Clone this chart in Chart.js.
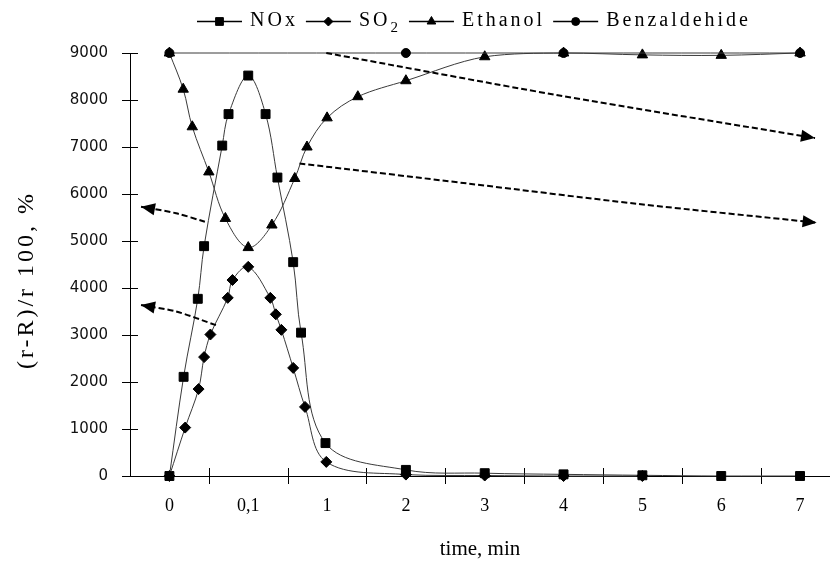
<!DOCTYPE html>
<html>
<head>
<meta charset="utf-8">
<script src="https://cdn.jsdelivr.net/npm/chart.js@4.4.1/dist/chart.umd.min.js"></script>
<style>
  html, body { margin: 0; padding: 0; background: #fff; overflow: hidden; }
  canvas { display: block; }
</style>
</head>
<body>
<canvas id="chart" width="830" height="567"></canvas>
<script>
// Time axis: one step per label (0, 0,1, 1, 2 ... 7 min); positions below are in steps.
const timeLabels = ['0', '0,1', '1', '2', '3', '4', '5', '6', '7'];
const valueTicks = [0, 1000, 2000, 3000, 4000, 5000, 6000, 7000, 8000, 9000];

const noxX = [0, 0.18, 0.36, 0.44, 0.67, 0.75, 1.0, 1.22, 1.37, 1.57, 1.67, 1.98, 3, 4, 5, 6, 7, 8];
const noxY = [0, 2110, 3770, 4890, 7030, 7700, 8520, 7700, 6350, 4550, 3050, 700, 130, 60, 35, 15, 0, 0];

const so2X = [0, 0.2, 0.37, 0.44, 0.52, 0.74, 0.80, 1.0, 1.28, 1.35, 1.42, 1.57, 1.72, 1.99, 3, 4, 5, 6];
const so2Y = [0, 1030, 1850, 2530, 3010, 3790, 4170, 4450, 3790, 3440, 3110, 2300, 1470, 300, 30, 10, 0, 0];

const ethanolX = [0, 0.175, 0.29, 0.5, 0.71, 1.0, 1.3, 1.59, 1.745, 2.0, 2.39, 3, 4, 5, 6, 7, 8];
const ethanolY = [9000, 8230, 7430, 6470, 5480, 4860, 5340, 6330, 7000, 7620, 8070, 8410, 8920, 9000, 8960, 8950, 9000];

const benzX = [0, 3, 5, 8];
const benzY = [9000, 9000, 9000, 9000];

// Dashed trend arrows; the last point of each is the arrow tip.
const arrowTopX = [1.99, 4.9, 8.19];
const arrowTopY = [9000, 8110, 7190];
const arrowMidX = [1.65, 3.8, 5.94, 8.21];
const arrowMidY = [6650, 6220, 5790, 5390];
const arrowLeftUpperX = [0.45, 0.085, -0.36];
const arrowLeftUpperY = [5410, 5590, 5730];
const arrowLeftLowerX = [0.59, 0.085, -0.36];
const arrowLeftLowerY = [3210, 3500, 3640];

const pts = (xs, ys) => xs.map((x, i) => ({ x, y: ys[i] }));

const LINE = '#3a3a3a';
const INK = '#000';
const SERIF = '"Liberation Serif", "Times New Roman", serif';

function series(label, xs, ys, style, radius) {
  return {
    label, data: pts(xs, ys),
    borderColor: LINE, borderWidth: 1,
    pointStyle: style, pointRadius: radius, pointHoverRadius: radius,
    pointBackgroundColor: INK, pointBorderColor: INK, pointBorderWidth: 1,
    tension: 0.35, clip: false, fill: false
  };
}
function arrow(xs, ys) {
  return {
    label: '', data: pts(xs, ys), isArrow: true,
    borderColor: INK, borderWidth: 2, borderDash: [6, 3],
    pointRadius: 0, tension: 0.3, clip: false, fill: false
  };
}

const legendItems = [
  { text: 'NOx', style: 'rect', radius: 5.5 },
  { text: 'SO', sub: '2', style: 'rectRot', radius: 4.5 },
  { text: 'Ethanol', style: 'triangle', radius: 5 },
  { text: 'Benzaldehide', style: 'circle', radius: 4 }
];

const decor = {
  id: 'decor',
  beforeDraw(chart) {
    const ctx = chart.ctx;
    ctx.save();
    ctx.fillStyle = '#fff';
    ctx.fillRect(0, 0, chart.width, chart.height);
    ctx.restore();
  },
  beforeDatasetsDraw(chart) {
    const ctx = chart.ctx;
    const xs = chart.scales.x, ys = chart.scales.y;
    const area = chart.chartArea;
    ctx.save();
    ctx.strokeStyle = INK;
    ctx.lineWidth = 1;
    ctx.beginPath();
    // value-axis tick marks crossing the axis line
    valueTicks.forEach(v => {
      const y = Math.round(ys.getPixelForValue(v)) + 0.5;
      ctx.moveTo(area.left - 8, y);
      ctx.lineTo(area.left + 8, y);
    });
    // time-axis tick marks between the labels, crossing the axis line
    for (let i = 0; i < timeLabels.length; i++) {
      const x = Math.round(xs.getPixelForValue(i + 0.5)) + 0.5;
      if (x > area.right) break;
      ctx.moveTo(x, area.bottom - 8);
      ctx.lineTo(x, area.bottom + 8);
    }
    ctx.stroke();
    ctx.restore();
  },
  afterDatasetsDraw(chart) {
    const ctx = chart.ctx;
    // arrow heads at the ends of the dashed trend lines
    chart.data.datasets.forEach((ds, i) => {
      if (!ds.isArrow) return;
      const el = chart.getDatasetMeta(i).data;
      const tip = el[el.length - 1], prev = el[el.length - 2];
      const a = Math.atan2(tip.y - prev.y, tip.x - prev.x);
      const len = 14, half = 6;
      ctx.save();
      ctx.translate(tip.x, tip.y);
      ctx.rotate(a);
      ctx.fillStyle = INK;
      ctx.beginPath();
      ctx.moveTo(0, 0);
      ctx.lineTo(-len, -half);
      ctx.lineTo(-len, half);
      ctx.closePath();
      ctx.fill();
      ctx.restore();
    });
  },
  afterDraw(chart) {
    const ctx = chart.ctx;
    ctx.save();
    // legend row
    const font = '20px ' + SERIF;
    const subFont = '15px ' + SERIF;
    ctx.textBaseline = 'middle';
    ctx.letterSpacing = '3px';
    let x = 197;
    const y = 21;
    legendItems.forEach(it => {
      ctx.strokeStyle = INK;
      ctx.lineWidth = 1.5;
      ctx.beginPath();
      ctx.moveTo(x, y + 0.5);
      ctx.lineTo(x + 45, y + 0.5);
      ctx.stroke();
      ctx.fillStyle = INK;
      ctx.lineWidth = 1;
      Chart.helpers.drawPoint(ctx, { pointStyle: it.style, radius: it.radius, rotation: 0, borderWidth: 1 }, x + 22.5, y + 0.5);
      x += 53;
      ctx.font = font;
      ctx.textAlign = 'left';
      ctx.fillText(it.text, x, y);
      x += ctx.measureText(it.text).width;
      if (it.sub) {
        ctx.font = subFont;
        ctx.fillText(it.sub, x, y + 7);
        x += ctx.measureText(it.sub).width;
      }
      x += 8;
    });
    // value-axis title
    ctx.translate(27, 280);
    ctx.rotate(-Math.PI / 2);
    ctx.textAlign = 'center';
    ctx.font = '24px ' + SERIF;
    ctx.letterSpacing = '3px';
    ctx.fillText('(r-R)/r 100, %', 0, 0);
    ctx.restore();
  }
};

new Chart(document.getElementById('chart'), {
  type: 'line',
  data: {
    datasets: [
      arrow(arrowTopX, arrowTopY),
      arrow(arrowMidX, arrowMidY),
      arrow(arrowLeftUpperX, arrowLeftUpperY),
      arrow(arrowLeftLowerX, arrowLeftLowerY),
      series('Benzaldehide', benzX, benzY, 'circle', 4.5),
      series('Ethanol', ethanolX, ethanolY, 'triangle', 6),
      series('SO2', so2X, so2Y, 'rectRot', 5.5),
      series('NOx', noxX, noxY, 'rect', 6.3)
    ]
  },
  options: {
    responsive: false,
    devicePixelRatio: 1,
    animation: false,
    events: [],
    layout: { autoPadding: false, padding: { top: 53, right: 0, bottom: 0, left: 0 } },
    plugins: { legend: { display: false }, tooltip: { enabled: false } },
    scales: {
      x: {
        type: 'linear',
        min: -0.5,
        max: 8.38,
        afterBuildTicks: s => { s.ticks = timeLabels.map((_, i) => ({ value: i })); },
        afterFit: s => { s.height = 91; s.paddingLeft = 0; s.paddingRight = 0; },
        grid: { display: false },
        border: { display: true, color: INK, width: 1 },
        ticks: {
          autoSkip: false, maxRotation: 0, padding: 11, color: INK,
          font: { family: SERIF, size: 18 },
          callback: v => timeLabels[v] ?? ''
        },
        title: {
          display: true, text: 'time, min', color: INK,
          font: { family: SERIF, size: 21 },
          padding: { top: 0, bottom: 5 }
        }
      },
      y: {
        type: 'linear',
        min: 0,
        max: 9000,
        afterBuildTicks: s => { s.ticks = valueTicks.map(v => ({ value: v })); },
        afterFit: s => { s.width = 130; s.paddingTop = 0; s.paddingBottom = 0; },
        grid: { display: false },
        border: { display: true, color: INK, width: 1 },
        ticks: {
          padding: 14, color: '#111',
          font: { family: '"DejaVu Sans", Verdana, sans-serif', size: 15 },
          callback: v => String(v)
        }
      }
    }
  },
  plugins: [decor]
});
</script>
</body>
</html>
